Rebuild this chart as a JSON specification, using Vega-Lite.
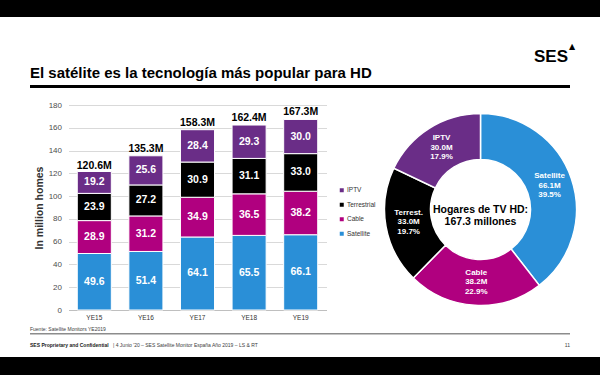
{
  "$schema": "https://vega.github.io/schema/vega-lite/v6.json",
  "padding": 0,
  "background": "white",
  "spacing": 0,
  "center": true,
  "config": {
    "view": {"stroke": null},
    "font": "Liberation Sans",
    "locale": {"number": {"decimal": ".", "thousands": ",", "grouping": [3], "currency": ["", "M"]}},
    "axis": {"labelFont": "Liberation Sans", "titleFont": "Liberation Sans"},
    "axisY": {
      "values": [0, 20, 40, 60, 80, 100, 120, 140, 160, 180],
      "domain": false, "ticks": false, "labelPadding": 7, "labelFontSize": 8,
      "labelColor": "#4d4d4d", "gridColor": "#d9d9d9", "titleFontSize": 10.5,
      "titleFontWeight": "bold", "titleColor": "#333333", "titlePadding": 3.5,
      "labelOverlap": false
    },
    "axisX": {
      "labelAngle": 0, "ticks": false, "domain": true,
      "domainColor": "#bfbfbf", "labelFontSize": 6.5, "labelColor": "#333333",
      "labelPadding": 4, "grid": false
    },
    "title": {"font": "Liberation Sans"}
  },
  "datasets": {
    "hd": [
      {"year": "YE15", "type": "Satellite", "value": 49.6},
      {"year": "YE15", "type": "Cable", "value": 28.9},
      {"year": "YE15", "type": "Terrestrial", "value": 23.9},
      {"year": "YE15", "type": "IPTV", "value": 19.2},
      {"year": "YE16", "type": "Satellite", "value": 51.4},
      {"year": "YE16", "type": "Cable", "value": 31.2},
      {"year": "YE16", "type": "Terrestrial", "value": 27.2},
      {"year": "YE16", "type": "IPTV", "value": 25.6},
      {"year": "YE17", "type": "Satellite", "value": 64.1},
      {"year": "YE17", "type": "Cable", "value": 34.9},
      {"year": "YE17", "type": "Terrestrial", "value": 30.9},
      {"year": "YE17", "type": "IPTV", "value": 28.4},
      {"year": "YE18", "type": "Satellite", "value": 65.5},
      {"year": "YE18", "type": "Cable", "value": 36.5},
      {"year": "YE18", "type": "Terrestrial", "value": 31.1},
      {"year": "YE18", "type": "IPTV", "value": 29.3},
      {"year": "YE19", "type": "Satellite", "value": 66.1},
      {"year": "YE19", "type": "Cable", "value": 38.2},
      {"year": "YE19", "type": "Terrestrial", "value": 33.0},
      {"year": "YE19", "type": "IPTV", "value": 30.0}
    ],
    "totals": [
      {"year": "YE15", "total": 120.6},
      {"year": "YE16", "total": 135.3},
      {"year": "YE17", "total": 158.3},
      {"year": "YE18", "total": 162.4},
      {"year": "YE19", "total": 167.3}
    ],
    "donut": [
      {"type": "Satellite", "short": "Satellite", "value": 66.1, "pct": 0.395},
      {"type": "Cable", "short": "Cable", "value": 38.2, "pct": 0.229},
      {"type": "Terrestrial", "short": "Terrest.", "value": 33.0, "pct": 0.197},
      {"type": "IPTV", "short": "IPTV", "value": 30.0, "pct": 0.179}
    ],
    "center": [
      {"label": "Hogares de TV HD:\n167.3 millones"}
    ]
  },
  "vconcat": [
    {
      "spacing": 0,
      "hconcat": [
        {
          "width": 568, "height": 17,
          "view": {"fill": "black", "stroke": null},
          "data": {"values": []},
          "mark": "point",
          "title": {
            "text": "SES", "orient": "bottom", "anchor": "end", "offset": 32,
            "font": "Liberation Sans", "fontSize": 17, "fontWeight": "bold", "color": "black"
          }
        },
        {
          "width": 32, "height": 17,
          "view": {"fill": "black", "stroke": null},
          "data": {"values": []},
          "mark": "point",
          "title": {
            "text": "▲", "orient": "bottom", "anchor": "start", "offset": 25.5, "dx": 1,
            "font": "DejaVu Sans", "fontSize": 8, "fontWeight": "normal", "color": "black"
          }
        }
      ]
    },
    {"width": 1, "height": 1, "data": {"values": []}, "mark": "point"},
    {
      "width": 540, "height": 3,
      "view": {"fill": "black", "stroke": null},
      "data": {"values": []},
      "mark": "point",
      "title": {
        "text": "El satélite es la tecnología más popular para HD",
        "anchor": "start", "fontSize": 15, "fontWeight": "bold", "color": "black",
        "font": "Liberation Sans", "offset": 4
      }
    },
    {"width": 1, "height": 13, "data": {"values": []}, "mark": "point"},
    {
      "spacing": 0,
      "resolve": {"scale": {"color": "independent"}},
      "hconcat": [
        {"width": 13.3, "height": 1, "data": {"values": []}, "mark": "point"},
        {
          "width": 258, "height": 205,
          "layer": [
            {
              "data": {"name": "hd"},
              "mark": {"type": "bar", "stroke": "white", "strokeWidth": 1},
              "encoding": {
                "x": {
                  "field": "year", "type": "nominal", "title": null,
                  "scale": {"paddingInner": 0.34, "paddingOuter": 0.17}
                },
                "y": {
                  "field": "value", "type": "quantitative", "stack": "zero", "title": "In million homes",
                  "scale": {"domain": [0, 180]}
                },
                "color": {
                  "field": "type", "type": "nominal",
                  "scale": {"domain": ["IPTV", "Terrestrial", "Cable", "Satellite"], "range": ["#6A2D87", "#000000", "#B0007F", "#2A8FD7"]},
                  "legend": {
                    "orient": "none", "legendX": 270, "legendY": 82, "title": null,
                    "symbolType": "square", "symbolSize": 16, "symbolStrokeWidth": 0,
                    "labelFontSize": 6.5, "labelColor": "#333333", "labelOffset": 2,
                    "rowPadding": 7.5, "padding": 0
                  }
                },
                "order": {"field": "value", "type": "quantitative", "sort": "descending"}
              }
            },
            {
              "data": {"name": "hd"},
              "mark": {"type": "text", "color": "white", "fontWeight": "bold", "fontSize": 10.5, "baseline": "middle"},
              "encoding": {
                "x": {"field": "year", "type": "nominal", "title": null},
                "y": {"field": "value", "type": "quantitative", "stack": "zero", "bandPosition": 0.5, "title": "In million homes"},
                "detail": {"field": "type", "type": "nominal"},
                "order": {"field": "value", "type": "quantitative", "sort": "descending"},
                "text": {"field": "value", "type": "quantitative", "format": ".1f"}
              }
            },
            {
              "data": {"name": "totals"},
              "mark": {"type": "text", "color": "black", "fontWeight": "bold", "fontSize": 10.5, "baseline": "alphabetic", "dy": -4},
              "encoding": {
                "x": {"field": "year", "type": "nominal", "title": null},
                "y": {"field": "total", "type": "quantitative", "title": "In million homes"},
                "text": {"field": "total", "type": "quantitative", "format": "$.1f"}
              }
            }
          ]
        },
        {"width": 4.7, "height": 1, "data": {"values": []}, "mark": "point"},
        {
          "width": 192, "height": 209,
          "layer": [
            {
              "data": {"name": "donut"},
              "mark": {"type": "arc", "innerRadius": 50, "outerRadius": 96, "stroke": "white", "strokeWidth": 1.5},
              "encoding": {
                "theta": {"field": "value", "type": "quantitative", "stack": true},
                "order": {"field": "value", "type": "quantitative", "sort": "descending"},
                "color": {
                  "field": "type", "type": "nominal",
                  "scale": {"domain": ["IPTV", "Terrestrial", "Cable", "Satellite"], "range": ["#6A2D87", "#000000", "#B0007F", "#2A8FD7"]},
                  "legend": null
                }
              }
            },
            {
              "data": {"name": "donut"},
              "mark": {"type": "text", "radius": 73, "dy": -9.5, "color": "white", "fontWeight": "bold", "fontSize": 8, "baseline": "middle"},
              "encoding": {
                "theta": {"field": "value", "type": "quantitative", "stack": true},
                "order": {"field": "value", "type": "quantitative", "sort": "descending"},
                "detail": {"field": "type", "type": "nominal"},
                "text": {"field": "short", "type": "nominal"}
              }
            },
            {
              "data": {"name": "donut"},
              "mark": {"type": "text", "radius": 73, "dy": 0, "color": "white", "fontWeight": "bold", "fontSize": 8, "baseline": "middle"},
              "encoding": {
                "theta": {"field": "value", "type": "quantitative", "stack": true},
                "order": {"field": "value", "type": "quantitative", "sort": "descending"},
                "detail": {"field": "type", "type": "nominal"},
                "text": {"field": "value", "type": "quantitative", "format": "$.1f"}
              }
            },
            {
              "data": {"name": "donut"},
              "mark": {"type": "text", "radius": 73, "dy": 9.5, "color": "white", "fontWeight": "bold", "fontSize": 8, "baseline": "middle"},
              "encoding": {
                "theta": {"field": "value", "type": "quantitative", "stack": true},
                "order": {"field": "value", "type": "quantitative", "sort": "descending"},
                "detail": {"field": "type", "type": "nominal"},
                "text": {"field": "pct", "type": "quantitative", "format": ".1%"}
              }
            },
            {
              "data": {"name": "center"},
              "mark": {"type": "text", "lineBreak": "\n", "lineHeight": 12, "color": "black", "fontWeight": "bold", "fontSize": 10.5, "baseline": "middle", "align": "center"},
              "encoding": {
                "text": {"field": "label", "type": "nominal"}
              }
            }
          ]
        }
      ]
    },
    {"width": 1, "height": 5, "data": {"values": []}, "mark": "point"},
    {
      "spacing": 0,
      "title": {"text": "Fuente: Satellite Monitors YE2019", "anchor": "start", "fontSize": 5, "fontWeight": "normal", "color": "#404040", "offset": 1.5},
      "hconcat": [
        {
          "width": 83, "height": 1.5, "view": {"fill": "#8c8c8c", "stroke": null},
          "data": {"values": []}, "mark": "point",
          "title": {"text": "SES Proprietary and Confidential", "orient": "bottom", "anchor": "start", "fontSize": 5, "fontWeight": "bold", "color": "#222222", "offset": 8}
        },
        {
          "width": 407, "height": 1.5, "view": {"fill": "#8c8c8c", "stroke": null},
          "data": {"values": []}, "mark": "point",
          "title": {"text": "|  4 Junio '20 – SES Satellite Monitor España Año 2019 – LS & RT", "orient": "bottom", "anchor": "start", "fontSize": 5, "fontWeight": "normal", "color": "#404040", "offset": 8}
        },
        {
          "width": 50, "height": 1.5, "view": {"fill": "#8c8c8c", "stroke": null},
          "data": {"values": []}, "mark": "point",
          "title": {"text": "11", "orient": "bottom", "anchor": "end", "fontSize": 5, "fontWeight": "normal", "color": "#404040", "offset": 8}
        }
      ]
    },
    {"width": 1, "height": 9, "data": {"values": []}, "mark": "point"},
    {
      "width": 600, "height": 18,
      "view": {"fill": "black", "stroke": null},
      "data": {"values": []},
      "mark": "point"
    }
  ]
}
